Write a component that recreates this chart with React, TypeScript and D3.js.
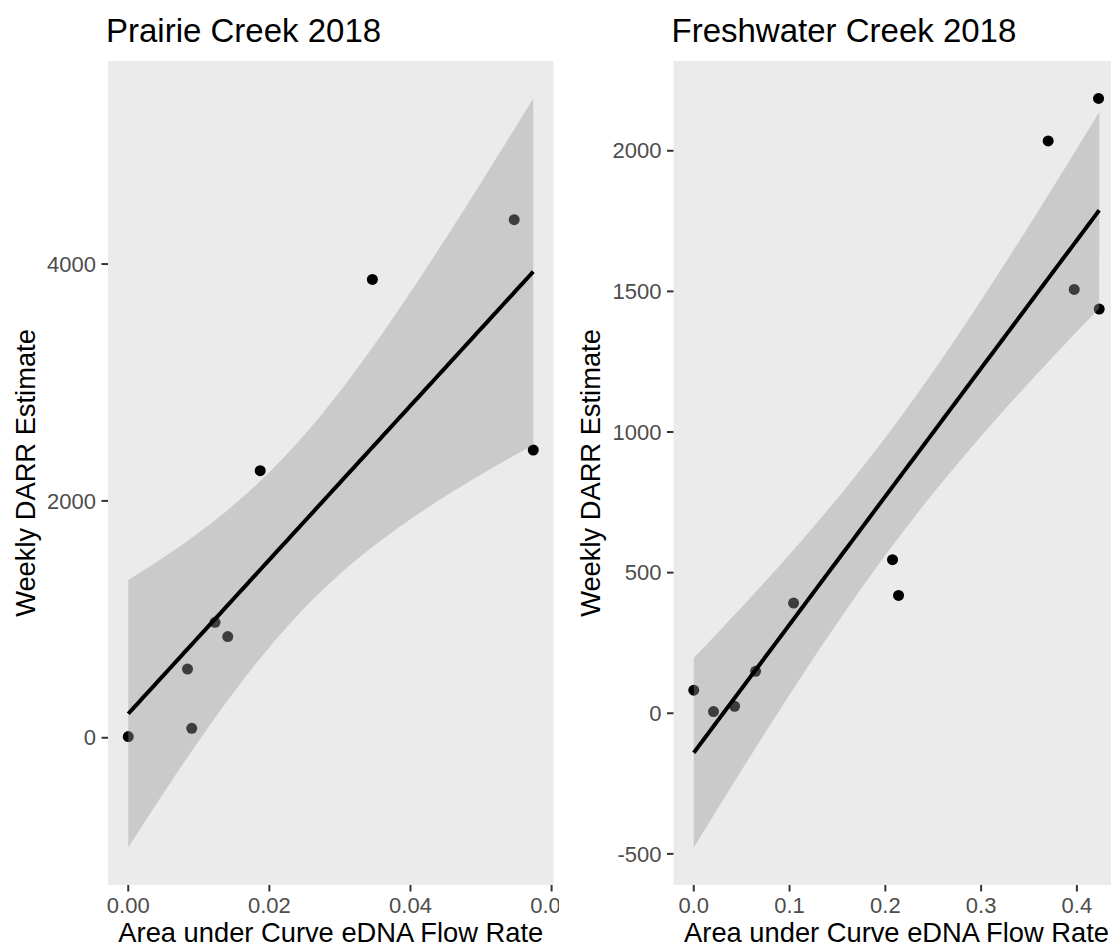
import React from "react";
import * as d3 from "d3";

// Prairie Creek 2018: area under curve of eDNA flow rate vs weekly DARR estimate
const prairieAuc = [0, 0.0084, 0.009, 0.0123, 0.0141, 0.0187, 0.0346, 0.0547, 0.0574];
const prairieDarr = [10, 580, 80, 975, 855, 2255, 3870, 4375, 2430];

// Freshwater Creek 2018
const freshwaterAuc = [0, 0.0206, 0.0426, 0.0645, 0.1042, 0.2075, 0.2138, 0.37, 0.3972, 0.4226, 0.4233];
const freshwaterDarr = [82, 6, 25, 149, 392, 546, 419, 2035, 1507, 2186, 1437];

const prairieXTicks = [0, 0.02, 0.04, 0.06];
const prairieYTicks = [0, 2000, 4000];
const freshwaterXTicks = [0, 0.1, 0.2, 0.3, 0.4];
const freshwaterYTicks = [-500, 0, 500, 1000, 1500, 2000];

// 97.5% Student t quantiles keyed by residual degrees of freedom
const T_975: Record<number, number> = { 7: 2.364624, 9: 2.262157 };

const FONT = "'Liberation Sans', Arial, Helvetica, sans-serif";
const W = 1111;
const H = 949;

type BandPoint = { x: number; fit: number; lo: number; hi: number };

// Ordinary least squares fit with a 95% confidence band for the mean
function fitLinear(xs: number[], ys: number[]): BandPoint[] {
  const n = xs.length;
  const mx = d3.mean(xs) as number;
  const my = d3.mean(ys) as number;
  let sxx = 0;
  let sxy = 0;
  xs.forEach((x, i) => {
    sxx += (x - mx) * (x - mx);
    sxy += (x - mx) * (ys[i] - my);
  });
  const slope = sxy / sxx;
  const intercept = my - slope * mx;
  const sse = d3.sum(xs, (x, i) => (ys[i] - intercept - slope * x) ** 2);
  const s = Math.sqrt(sse / (n - 2));
  const t = T_975[n - 2];
  const [x0, x1] = d3.extent(xs) as [number, number];
  return d3.range(80).map((i) => {
    const x = x0 + ((x1 - x0) * i) / 79;
    const fit = intercept + slope * x;
    const se = s * Math.sqrt(1 / n + ((x - mx) * (x - mx)) / sxx);
    return { x, fit, lo: fit - t * se, hi: fit + t * se };
  });
}

function expand([a, b]: [number, number]): [number, number] {
  const pad = (b - a) * 0.05;
  return [a - pad, b + pad];
}

type PanelProps = {
  id: string;
  title: string;
  xs: number[];
  ys: number[];
  xTicks: number[];
  yTicks: number[];
  xFormat: (v: number) => string;
  left: number;
  right: number;
  top: number;
  bottom: number;
  yTitleX: number;
  clipRight: number;
};

function Panel(p: PanelProps) {
  const band = fitLinear(p.xs, p.ys);
  const xDomain = expand(d3.extent(p.xs) as [number, number]);
  const yMin = Math.min(d3.min(p.ys) as number, d3.min(band, (d) => d.lo) as number);
  const yMax = Math.max(d3.max(p.ys) as number, d3.max(band, (d) => d.hi) as number);
  const yDomain = expand([yMin, yMax]);

  const x = d3.scaleLinear().domain(xDomain).range([p.left, p.right]);
  const y = d3.scaleLinear().domain(yDomain).range([p.bottom, p.top]);

  const ribbon = d3
    .area<BandPoint>()
    .x((d) => x(d.x))
    .y0((d) => y(d.lo))
    .y1((d) => y(d.hi))(band) as string;
  const line = d3
    .line<BandPoint>()
    .x((d) => x(d.x))
    .y((d) => y(d.fit))(band) as string;

  const tickLen = 6.5;
  const cx = (p.left + p.right) / 2;
  const cy = (p.top + p.bottom) / 2;

  return (
    <g clipPath={`url(#${p.id}-sub)`}>
      <defs>
        <clipPath id={`${p.id}-sub`}>
          <rect x={0} y={0} width={p.clipRight} height={H} />
        </clipPath>
        <clipPath id={`${p.id}-panel`}>
          <rect x={p.left} y={p.top} width={p.right - p.left} height={p.bottom - p.top} />
        </clipPath>
      </defs>

      <text x={p.left - 2} y={42} fontFamily={FONT} fontSize={33} fill="#000">
        {p.title}
      </text>

      <rect x={p.left} y={p.top} width={p.right - p.left} height={p.bottom - p.top} fill="#EBEBEB" />

      <g clipPath={`url(#${p.id}-panel)`}>
        {p.xs.map((v, i) => (
          <circle key={i} cx={x(v)} cy={y(p.ys[i])} r={5.5} fill="#000" />
        ))}
        <path d={ribbon} fill="#999999" fillOpacity={0.4} />
        <path d={line} fill="none" stroke="#000" strokeWidth={4} />
      </g>

      {p.yTicks.map((t) => (
        <g key={`y${t}`}>
          <line x1={p.left - tickLen} x2={p.left} y1={y(t)} y2={y(t)} stroke="#333" strokeWidth={2} />
          <text
            x={p.left - tickLen - 5.5}
            y={y(t)}
            dy="0.35em"
            textAnchor="end"
            fontFamily={FONT}
            fontSize={22}
            fill="#4D4D4D"
          >
            {String(t)}
          </text>
        </g>
      ))}

      {p.xTicks.map((t) => (
        <g key={`x${t}`}>
          <line x1={x(t)} x2={x(t)} y1={p.bottom} y2={p.bottom + tickLen} stroke="#333" strokeWidth={2} />
          <text x={x(t)} y={913} textAnchor="middle" fontFamily={FONT} fontSize={22} fill="#4D4D4D">
            {p.xFormat(t)}
          </text>
        </g>
      ))}

      <text x={cx} y={942} textAnchor="middle" fontFamily={FONT} fontSize={27.3} fill="#000">
        Area under Curve eDNA Flow Rate
      </text>
      <text
        transform={`translate(${p.yTitleX},${cy}) rotate(-90)`}
        textAnchor="middle"
        fontFamily={FONT}
        fontSize={27.3}
        fill="#000"
      >
        Weekly DARR Estimate
      </text>
    </g>
  );
}

export default function App() {
  return (
    <svg
      width={W}
      height={H}
      viewBox={`0 0 ${W} ${H}`}
      style={{ position: "absolute", left: 0, top: 0, display: "block", background: "#fff" }}
    >
      <rect x={0} y={0} width={W} height={H} fill="#fff" />
      <Panel
        id="prairie"
        title="Prairie Creek 2018"
        xs={prairieAuc}
        ys={prairieDarr}
        xTicks={prairieXTicks}
        yTicks={prairieYTicks}
        xFormat={d3.format(".2f")}
        left={108}
        right={553.5}
        top={61}
        bottom={885}
        yTitleX={35}
        clipRight={559}
      />
      <Panel
        id="freshwater"
        title="Freshwater Creek 2018"
        xs={freshwaterAuc}
        ys={freshwaterDarr}
        xTicks={freshwaterXTicks}
        yTicks={freshwaterYTicks}
        xFormat={d3.format(".1f")}
        left={673.5}
        right={1119.5}
        top={61}
        bottom={885}
        yTitleX={600}
        clipRight={W}
      />
    </svg>
  );
}
